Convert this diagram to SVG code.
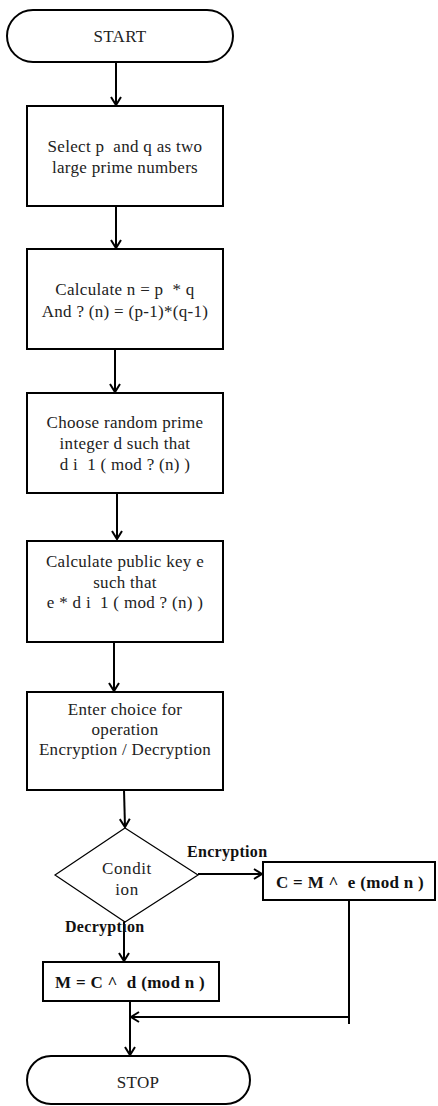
<svg xmlns="http://www.w3.org/2000/svg" width="438" height="1106" viewBox="0 0 438 1106">
<defs>
<style>
.n{fill:#fff;stroke:#000;stroke-width:2}
.t{font-family:"Liberation Serif","DejaVu Serif",serif;font-size:17px;letter-spacing:0.3px;fill:#222;text-anchor:middle;white-space:pre}
.b{font-family:"Liberation Serif","DejaVu Serif",serif;font-size:17px;letter-spacing:0.3px;font-weight:bold;fill:#111;text-anchor:middle;white-space:pre}
.lbl{font-family:"Liberation Serif","DejaVu Serif",serif;font-size:16px;letter-spacing:0.3px;font-weight:bold;fill:#111}
.c{fill:none;stroke:#000;stroke-width:2}
</style>
<marker id="ah" markerWidth="12" markerHeight="12" refX="10" refY="6" orient="auto" markerUnits="userSpaceOnUse">
<polyline points="2,1 10,6 2,11" fill="none" stroke="#000" stroke-width="2"/>
</marker>
</defs>
<rect width="438" height="1106" fill="#fff"/>
<g id="connectors">
<line class="c" x1="116" y1="62" x2="116" y2="105" marker-end="url(#ah)"/>
<line class="c" x1="116" y1="206" x2="116" y2="248" marker-end="url(#ah)"/>
<line class="c" x1="115" y1="349" x2="115" y2="392" marker-end="url(#ah)"/>
<line class="c" x1="117" y1="493" x2="117" y2="539" marker-end="url(#ah)"/>
<line class="c" x1="114" y1="642" x2="114" y2="691" marker-end="url(#ah)"/>
<line class="c" x1="124" y1="790" x2="125" y2="827" stroke-width="3" marker-end="url(#ah)"/>
<line class="c" x1="198" y1="874" x2="262" y2="874" marker-end="url(#ah)"/>
<line class="c" x1="124" y1="922" x2="124" y2="961" stroke-width="3" marker-end="url(#ah)"/>
<line class="c" x1="130" y1="1001" x2="130" y2="1055" marker-end="url(#ah)"/>
<polyline class="c" points="349,900 349,1024"/>
<line class="c" x1="349" y1="1017" x2="131" y2="1017" marker-end="url(#ah)"/>
<text class="lbl" x="187" y="857">Encryption</text>
<text class="lbl" x="65" y="932">Decryption</text>
</g>
<g id="start">
<rect class="n" x="7" y="10" width="226" height="52" rx="26" ry="26"/>
<text class="t" x="120" y="42">START</text>
</g>
<g id="select">
<rect class="n" x="27" y="106" width="196" height="100"/>
<text class="t" x="125" y="152">Select p  and q as two</text>
<text class="t" x="125" y="173">large prime numbers</text>
</g>
<g id="calc-n">
<rect class="n" x="27" y="249" width="196" height="100"/>
<text class="t" x="125" y="295">Calculate n = p  * q</text>
<text class="t" x="125" y="317">And ? (n) = (p-1)*(q-1)</text>
</g>
<g id="choose-d">
<rect class="n" x="27" y="393" width="196" height="100"/>
<text class="t" x="125" y="428">Choose random prime</text>
<text class="t" x="125" y="449">integer d such that</text>
<text class="t" x="125" y="470">d i  1 ( mod ? (n) )</text>
</g>
<g id="calc-e">
<rect class="n" x="27" y="541" width="196" height="101"/>
<text class="t" x="125" y="567">Calculate public key e</text>
<text class="t" x="125" y="588">such that</text>
<text class="t" x="125" y="608">e * d i  1 ( mod ? (n) )</text>
</g>
<g id="choice">
<rect class="n" x="27" y="692" width="196" height="98"/>
<text class="t" x="125" y="715">Enter choice for</text>
<text class="t" x="125" y="735">operation</text>
<text class="t" x="125" y="755">Encryption / Decryption</text>
</g>
<g id="condition">
<polygon points="125,828 198,875 125,922 55,875" fill="#fff" stroke="#000" stroke-width="1.2"/>
<text class="t" x="127" y="874" style="letter-spacing:0.6px">Condit</text>
<text class="t" x="127" y="895" style="letter-spacing:0.6px">ion</text>
</g>
<g id="encrypt">
<rect class="n" x="263" y="862" width="172" height="38"/>
<text class="b" x="350" y="888">C = M ^  e (mod n )</text>
</g>
<g id="decrypt">
<rect class="n" x="43" y="962" width="176" height="39"/>
<text class="b" x="130" y="988">M = C ^  d (mod n )</text>
</g>
<g id="stop">
<rect class="n" x="27" y="1056" width="223" height="48" rx="24" ry="24"/>
<text class="t" x="138" y="1088">STOP</text>
</g>
</svg>
